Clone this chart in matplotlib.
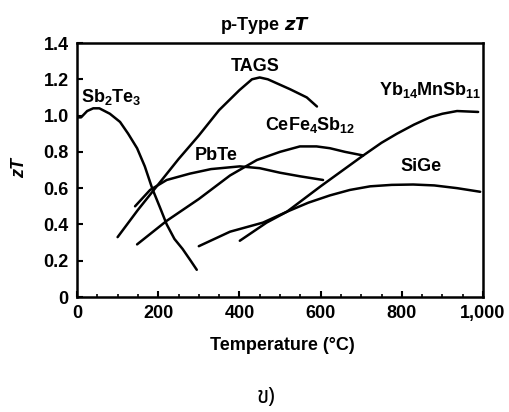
import matplotlib

matplotlib.use("Agg")
import matplotlib.pyplot as plt
from matplotlib.ticker import MultipleLocator

# curves (T in degC)
sb2te3_t = [0, 10, 25, 40, 55, 81, 106, 126, 148, 167, 185, 205, 221, 240, 260, 280, 295]
sb2te3_zt = [0.99, 0.99, 1.025, 1.04, 1.04, 1.01, 0.965, 0.90, 0.82, 0.72, 0.60, 0.49,
             0.40, 0.32, 0.265, 0.20, 0.15]

tags_t = [100, 150, 200, 250, 300, 350, 400, 431, 450, 470, 525, 566, 591]
tags_zt = [0.33, 0.48, 0.62, 0.76, 0.89, 1.03, 1.14, 1.20, 1.21, 1.20, 1.145, 1.10, 1.05]

pbte_t = [143, 180, 221, 278, 330, 401, 450, 500, 550, 606]
pbte_zt = [0.50, 0.59, 0.645, 0.68, 0.705, 0.72, 0.71, 0.685, 0.665, 0.645]

cefe_t = [148, 221, 300, 377, 443, 500, 549, 590, 623, 660, 705]
cefe_zt = [0.29, 0.42, 0.54, 0.67, 0.755, 0.80, 0.83, 0.83, 0.82, 0.80, 0.78]

yb_t = [401, 467, 517, 600, 705, 750, 788, 830, 869, 900, 936, 988]
yb_zt = [0.31, 0.41, 0.47, 0.61, 0.78, 0.85, 0.90, 0.95, 0.99, 1.01, 1.025, 1.02]

sige_t = [300, 377, 458, 517, 570, 623, 672, 722, 775, 828, 880, 936, 993]
sige_zt = [0.28, 0.36, 0.41, 0.47, 0.52, 0.56, 0.59, 0.61, 0.618, 0.62, 0.615, 0.60, 0.58]

labels = ["Sb$_2$Te$_3$", "TAGS", "PbTe", "CeFe$_4$Sb$_{12}$", "Yb$_{14}$MnSb$_{11}$", "SiGe"]
label_t = [84, 438, 342, 574, 869, 847]
label_zt = [1.10, 1.27, 0.78, 0.95, 1.14, 0.72]

x_ticks = [0, 200, 400, 600, 800, 1000]
x_ticklabels = ["0", "200", "400", "600", "800", "1,000"]
y_ticks = [0, 0.2, 0.4, 0.6, 0.8, 1.0, 1.2, 1.4]
y_ticklabels = ["0", "0.2", "0.4", "0.6", "0.8", "1.0", "1.2", "1.4"]

FONT = ["Liberation Sans", "DejaVu Sans"]
plt.rcParams["font.family"] = FONT
plt.rcParams["font.weight"] = "bold"
plt.rcParams["mathtext.default"] = "regular"

fig = plt.figure(figsize=(5.09, 4.12), dpi=100)
ax = fig.add_axes([77 / 509, 1 - 297 / 412, 406 / 509, 254 / 412])

for t, z in [(sb2te3_t, sb2te3_zt), (tags_t, tags_zt), (pbte_t, pbte_zt),
             (cefe_t, cefe_zt), (yb_t, yb_zt), (sige_t, sige_zt)]:
    ax.plot(t, z, color="black", lw=1.8, solid_capstyle="round", solid_joinstyle="round")

for s, t, z in zip(labels, label_t, label_zt):
    ax.text(t, z, s, ha="center", va="center", fontsize=13)

ax.set_xlim(0, 1000)
ax.set_ylim(0, 1.4)
ax.set_xticks(x_ticks)
ax.set_xticklabels(x_ticklabels, fontsize=13)
ax.set_yticks(y_ticks)
ax.set_yticklabels(y_ticklabels, fontsize=13)
ax.xaxis.set_minor_locator(MultipleLocator(50))
ax.tick_params(direction="in", length=4, width=1.5, pad=6)
ax.tick_params(axis="x", which="minor", direction="in", length=2.5, width=1.2)
for sp in ax.spines.values():
    sp.set_linewidth(1.8)

fig.text(265 / 509, 1 - 25 / 412, "p-Type $\\it{zT}$", ha="center", va="center", fontsize=13)
fig.text(282 / 509, 1 - 346 / 412, "Temperature (°C)", ha="center", va="center", fontsize=13)
fig.text(20 / 509, 1 - 168 / 412, "zT", ha="center", va="center", rotation=90,
         fontsize=13, style="italic")
fig.text(266 / 509, 1 - 398 / 412, "ข)", ha="center", va="center", fontsize=16,
         family=["Noto Sans Thai", "Loma", "Garuda", "Norasi", "Tlwg Typo", "DejaVu Sans"])

fig.savefig("out.png", dpi=100)
